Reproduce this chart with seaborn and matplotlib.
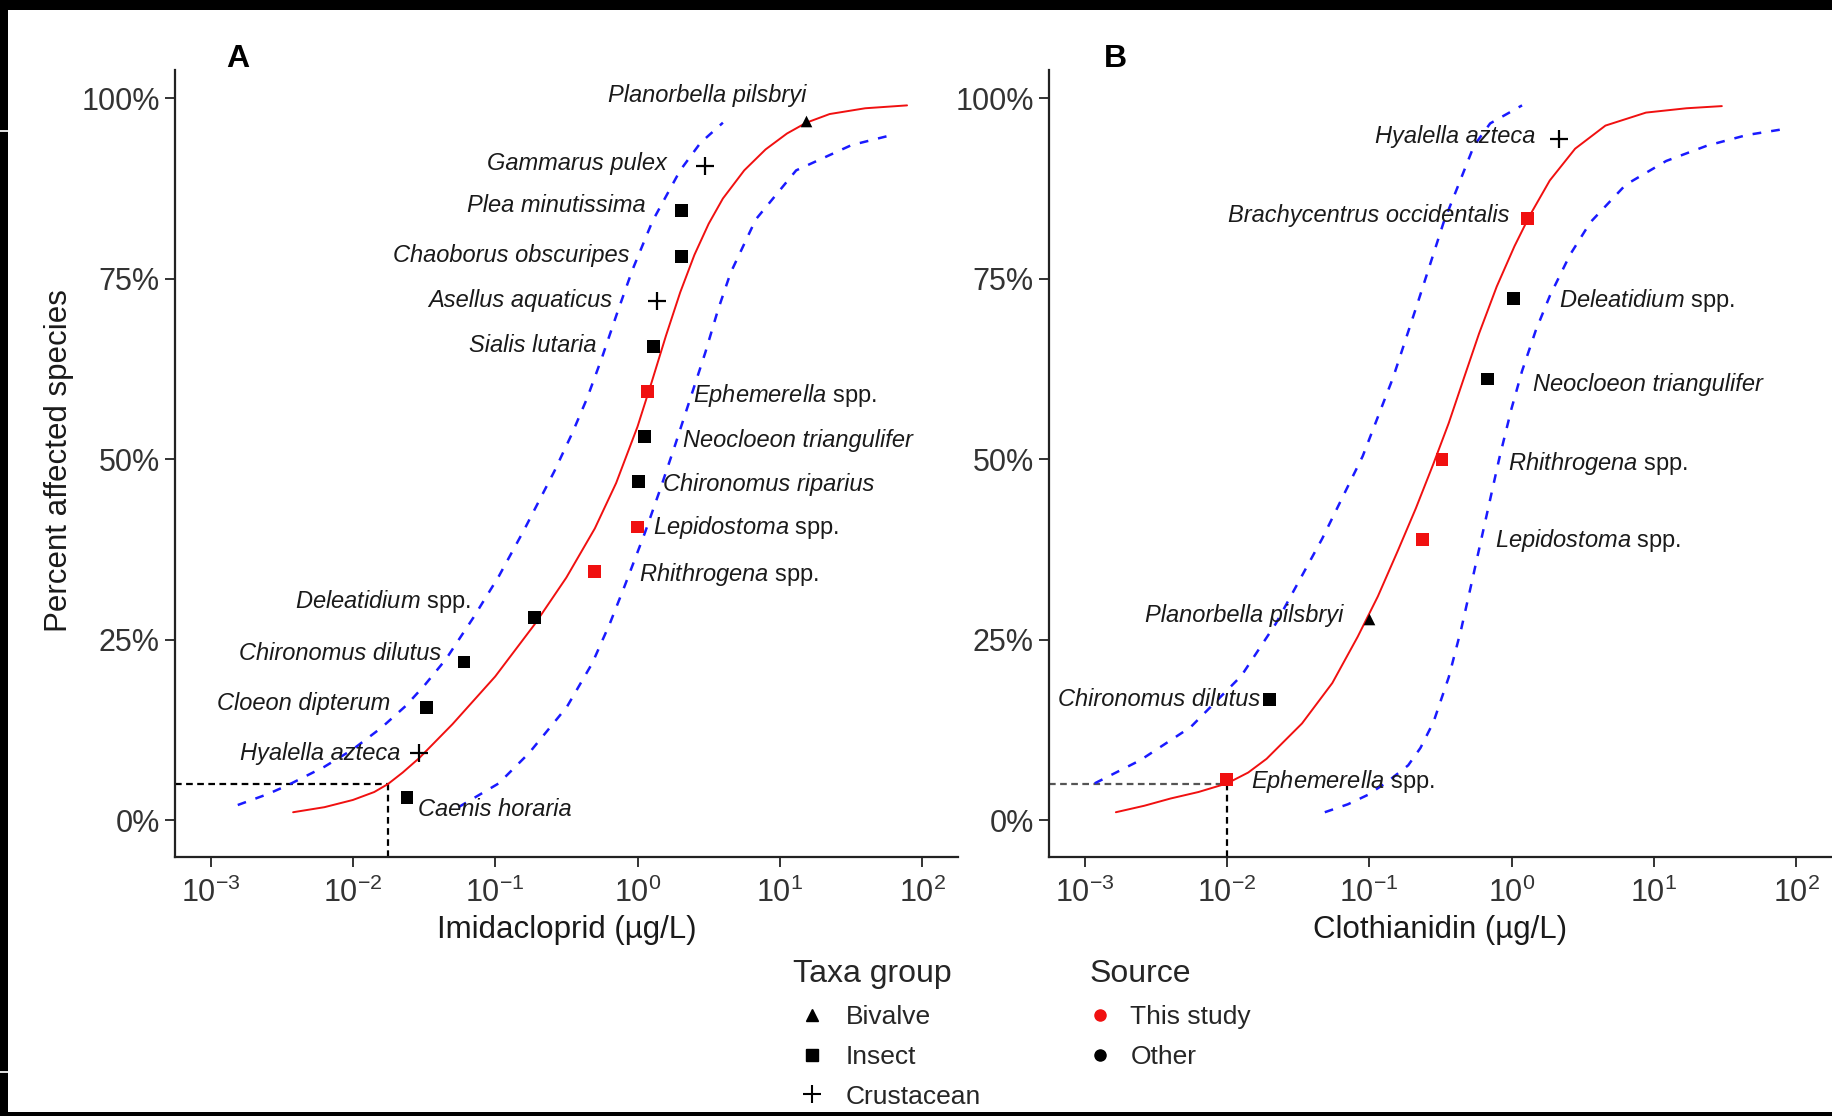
import numpy as np
import pandas as pd
import matplotlib
matplotlib.use("Agg")
import matplotlib.pyplot as plt
import seaborn as sns
from matplotlib.lines import Line2D
from matplotlib.patches import Rectangle
from matplotlib.ticker import FixedLocator, FixedFormatter, NullLocator

# ---------------- data ----------------
# Panel A : Imidacloprid
A_species = ["Caenis horaria", "Hyalella azteca", "Cloeon dipterum", "Chironomus dilutus",
             "Deleatidium spp.", "Rhithrogena spp.", "Lepidostoma spp.", "Chironomus riparius",
             "Neocloeon triangulifer", "Ephemerella spp.", "Sialis lutaria", "Asellus aquaticus",
             "Chaoborus obscuripes", "Plea minutissima", "Gammarus pulex", "Planorbella pilsbryi"]
A_conc = [0.0240, 0.0292, 0.0330, 0.0604, 0.190, 0.499, 1.00, 1.02,
          1.12, 1.18, 1.29, 1.36, 2.03, 2.03, 3.00, 15.3]
A_pct = [3.1, 9.3, 15.6, 21.9, 28.1, 34.4, 40.6, 46.9, 53.1, 59.4, 65.6, 71.9, 78.1, 84.4, 90.6, 96.9]
A_taxa = ["Insect", "Crustacean", "Insect", "Insect", "Insect", "Insect", "Insect", "Insect",
          "Insect", "Insect", "Insect", "Crustacean", "Insect", "Insect", "Crustacean", "Bivalve"]
A_source = ["Other", "Other", "Other", "Other", "Other", "This study", "This study", "Other",
            "Other", "This study", "Other", "Other", "Other", "Other", "Other", "Other"]
A_hc5 = 0.0176

# fitted curve and confidence band (log10 concentration, percent)
A_fit_log = [-2.42, -2.2, -2.0, -1.85, -1.754, -1.65, -1.534, -1.3, -1.0, -0.72, -0.5, -0.3,
             -0.15, 0.0, 0.1, 0.2, 0.3, 0.4, 0.5, 0.6, 0.75, 0.9, 1.05, 1.186, 1.35, 1.6, 1.894]
A_fit_pct = [1.1, 1.8, 2.8, 3.9, 5.0, 6.6, 8.6, 13.3, 19.9, 27.2, 33.6, 40.4,
             46.7, 54.5, 60.7, 67.1, 73.1, 78.3, 82.6, 86.1, 90.0, 92.9, 95.1, 96.6, 97.8, 98.6, 99.0]
A_up_log = [-2.809, -2.6, -2.462, -2.2, -2.001, -1.8, -1.63, -1.5, -1.346, -1.152, -0.974,
            -0.797, -0.585, -0.461, -0.355, -0.249, -0.142, -0.036, 0.106, 0.3, 0.442, 0.6]
A_up_pct = [2.1, 3.6, 4.8, 7.4, 9.8, 12.8, 15.8, 18.6, 22.3, 28.1, 33.8,
            40.2, 48.3, 53.5, 58.4, 64.1, 70.3, 76.2, 83.0, 90.0, 93.8, 96.6]
A_lo_log = [-1.258, -0.975, -0.762, -0.496, -0.319, -0.195, -0.089, 0.052, 0.159, 0.265,
            0.371, 0.477, 0.566, 0.654, 0.831, 1.115, 1.504, 1.788]
A_lo_pct = [1.8, 5.1, 9.3, 15.7, 21.7, 27.2, 32.5, 39.8, 45.8, 52.0,
            58.4, 64.8, 70.7, 75.8, 83.2, 90.0, 93.5, 94.9]

# Panel B : Clothianidin
B_species = ["Ephemerella spp.", "Chironomus dilutus", "Planorbella pilsbryi", "Lepidostoma spp.",
             "Rhithrogena spp.", "Neocloeon triangulifer", "Deleatidium spp.",
             "Brachycentrus occidentalis", "Hyalella azteca"]
B_conc = [0.0100, 0.0200, 0.100, 0.237, 0.325, 0.68, 1.03, 1.29, 2.15]
B_pct = [5.6, 16.7, 27.8, 38.9, 50.0, 61.1, 72.2, 83.3, 94.4]
B_taxa = ["Insect", "Insect", "Bivalve", "Insect", "Insect", "Insect", "Insect", "Insect", "Crustacean"]
B_source = ["This study", "Other", "Other", "This study", "This study", "Other", "Other",
            "This study", "Other"]
B_hc5 = 0.0100

B_fit_log = [-2.78, -2.58, -2.396, -2.2, -1.998, -1.85, -1.721, -1.472, -1.259, -1.081, -0.939,
             -0.797, -0.672, -0.548, -0.441, -0.335, -0.228, -0.104, 0.021, 0.127, 0.269, 0.447,
             0.66, 0.945, 1.229, 1.478]
B_fit_pct = [1.1, 2.0, 3.0, 3.9, 5.1, 6.6, 8.5, 13.4, 19.0, 25.4, 31.0,
             37.4, 43.2, 49.4, 55.0, 61.2, 67.4, 73.9, 79.5, 83.7, 88.6, 93.0,
             96.2, 98.0, 98.6, 98.9]
B_up_log = [-2.929, -2.609, -2.254, -1.898, -1.657, -1.33, -1.046, -0.832, -0.655, -0.477,
            -0.264, -0.15, 0.074]
B_up_pct = [5.1, 8.3, 12.9, 20.0, 27.2, 39.0, 50.4, 61.3, 71.9, 82.8, 93.4, 96.5, 99.0]
B_lo_log = [-1.312, -1.15, -1.01, -0.88, -0.726, -0.64, -0.548, -0.441, -0.353, -0.281, -0.2,
            -0.086, 0.0, 0.074, 0.17, 0.269, 0.411, 0.554, 0.802, 1.087, 1.371, 1.655, 1.94]
B_lo_pct = [1.1, 2.2, 3.5, 5.2, 7.6, 10.0, 13.6, 19.8, 26.5, 32.8, 40.0,
            50.1, 57.0, 62.2, 67.8, 72.6, 78.3, 82.8, 88.0, 91.3, 93.4, 94.9, 95.8]

y_ticks = [0, 25, 50, 75, 100]
y_ticklabels = ["0%", "25%", "50%", "75%", "100%"]
x_ticks = [1e-3, 1e-2, 1e-1, 1e0, 1e1, 1e2]
x_ticklabels = [r"$10^{-3}$", r"$10^{-2}$", r"$10^{-1}$", r"$10^{0}$", r"$10^{1}$", r"$10^{2}$"]

# ---------------- layout (label offsets in pixels) ----------------
A_lab = [("left", 11, -12), ("right", -19, 0), ("right", -36, 4), ("right", -23, 9),
         ("right", -64, 16), ("left", 44, -3), ("left", 15, 0), ("left", 24, -3),
         ("left", 38, -4), ("left", 45, -4), ("right", -57, 1), ("right", -44, 1),
         ("right", -52, 1), ("right", -36, 5), ("right", -39, 3), ("right", 0, 25)]
B_lab = [("left", 24, -2), ("right", -9, 0), ("right", -26, 4), ("left", 72, -1),
         ("left", 66, -4), ("left", 45, -5), ("left", 46, -2), ("right", -18, 3),
         ("right", -23, 2)]

# ---------------- style ----------------
sns.set_theme(style="white")
plt.rcParams["font.family"] = ["Liberation Sans", "DejaVu Sans"]
plt.rcParams["mathtext.fontset"] = "custom"
plt.rcParams["mathtext.rm"] = "Liberation Sans"
plt.rcParams["mathtext.it"] = "Liberation Sans:italic"
plt.rcParams["mathtext.bf"] = "Liberation Sans:bold"

W, H = 1832, 1116
fig = plt.figure(figsize=(W / 100, H / 100), dpi=100)
fig.patch.set_facecolor("white")

ax_w = 782.7 / W
ax_b = 1 - 857 / H
ax_h = 787 / H
axA = fig.add_axes([175 / W, ax_b, ax_w, ax_h])
axB = fig.add_axes([1049 / W, ax_b, ax_w, ax_h])

marker_map = {"Bivalve": "^", "Insect": "s", "Crustacean": "+"}
size_map = {"Bivalve": 70, "Insect": 85, "Crustacean": 170}
pal = {"This study": "#f01010", "Other": "black"}


def fmt_label(name):
    if name.endswith(" spp."):
        return r"$\mathit{" + name[:-5] + r"}$ spp."
    return name


def draw(ax, species, conc, pct, taxa, source, labs, fit_log, fit_pct, up_log, up_pct,
         lo_log, lo_pct, hc5, xlabel, tag, hcolor):
    df = pd.DataFrame({"species": species, "conc": conc, "pct": pct, "taxa": taxa, "source": source})
    fit = pd.DataFrame({"x": np.power(10.0, fit_log), "y": fit_pct})
    up = pd.DataFrame({"x": np.power(10.0, up_log), "y": up_pct})
    lo = pd.DataFrame({"x": np.power(10.0, lo_log), "y": lo_pct})

    ax.set_xscale("log")
    ax.set_xlim(10 ** -3.25, 10 ** 2.25)
    ax.set_ylim(-5.1, 103.9)

    # HC5 guides
    ax.plot([10 ** -3.25, hc5], [5, 5], color=hcolor, lw=1.6, linestyle=(0, (3, 2)), zorder=1)
    ax.plot([hc5, hc5], [-5.1, 5], color="black", lw=1.6, linestyle=(0, (3, 2)), zorder=1)

    for band in (up, lo):
        sns.lineplot(data=band, x="x", y="y", ax=ax, color="#1a1aff", lw=1.8, sort=False,
                     estimator=None, linestyle=(0, (3.5, 4)), zorder=2)
    sns.lineplot(data=fit, x="x", y="y", ax=ax, color="#f01010", lw=1.4, sort=False,
                 estimator=None, zorder=3)

    for t in ["Bivalve", "Insect", "Crustacean"]:
        sub = df[df["taxa"] == t]
        if sub.empty:
            continue
        if t == "Crustacean":
            sns.scatterplot(data=sub, x="conc", y="pct", ax=ax, marker="+", s=size_map[t],
                            color="black", linewidth=1.6, legend=False, zorder=4)
        else:
            sns.scatterplot(data=sub, x="conc", y="pct", hue="source", palette=pal, ax=ax,
                            marker=marker_map[t], s=size_map[t], linewidth=0, legend=False, zorder=4)

    for (name, c, p), (ha, dx, dy) in zip(zip(species, conc, pct), labs):
        lab = fmt_label(name)
        style = "normal" if "$" in lab else "italic"
        ax.annotate(lab, xy=(c, p), xytext=(dx, dy), textcoords="offset pixels",
                    ha=ha, va="center", fontsize=17, fontstyle=style, color="#1a1a1a", zorder=5)

    ax.xaxis.set_major_locator(FixedLocator(x_ticks))
    ax.xaxis.set_major_formatter(FixedFormatter(x_ticklabels))
    ax.xaxis.set_minor_locator(NullLocator())
    ax.set_yticks(y_ticks)
    ax.set_yticklabels(y_ticklabels)
    ax.tick_params(axis="both", which="major", length=7, width=1.4, color="#333333",
                   labelsize=22, labelcolor="#333333", bottom=True, left=True)
    ax.tick_params(axis="x", pad=8)
    ax.tick_params(axis="y", pad=4)
    ax.set_xlabel(xlabel, fontsize=22.5, color="#1a1a1a", labelpad=4)
    ax.set_ylabel("")
    for s in ["top", "right"]:
        ax.spines[s].set_visible(False)
    for s in ["left", "bottom"]:
        ax.spines[s].set_color("#222222")
        ax.spines[s].set_linewidth(1.6)
    ax.grid(False)
    ax.text(0.08, 0.995, tag, transform=ax.transAxes, fontsize=23, fontweight="bold",
            ha="center", va="bottom", color="black")


draw(axA, A_species, A_conc, A_pct, A_taxa, A_source, A_lab, A_fit_log, A_fit_pct,
     A_up_log, A_up_pct, A_lo_log, A_lo_pct, A_hc5, "Imidacloprid (µg/L)", "A", "black")
draw(axB, B_species, B_conc, B_pct, B_taxa, B_source, B_lab, B_fit_log, B_fit_pct,
     B_up_log, B_up_pct, B_lo_log, B_lo_pct, B_hc5, "Clothianidin (µg/L)", "B", "#555555")
axB.texts[-1].set_x(0.085)

fig.text(59 / W, 1 - 461 / H, "Percent affected species", rotation=90, fontsize=22.5,
         ha="center", va="center", color="#1a1a1a")

# ---------------- legends ----------------
taxa_handles = [Line2D([], [], marker="^", ls="", color="black", ms=8),
                Line2D([], [], marker="s", ls="", color="black", ms=9),
                Line2D([], [], marker="+", ls="", color="black", ms=13, mew=1.5)]
leg1 = fig.legend(taxa_handles, ["Bivalve", "Insect", "Crustacean"], title="Taxa group",
                  loc="upper left", bbox_to_anchor=(780 / W, 1 - 946 / H), frameon=False,
                  fontsize=19, title_fontsize=23, alignment="left", borderpad=0,
                  handlelength=1.4, handletextpad=0.59, labelspacing=0.6)
src_handles = [Line2D([], [], marker="o", ls="", color="#f01010", ms=8),
               Line2D([], [], marker="o", ls="", color="black", ms=8)]
leg2 = fig.legend(src_handles, ["This study", "Other"], title="Source",
                  loc="upper left", bbox_to_anchor=(1076 / W, 1 - 946 / H), frameon=False,
                  fontsize=19, title_fontsize=23, alignment="left", borderpad=0,
                  handlelength=0.8, handletextpad=0.76, labelspacing=0.6)

# ---------------- black frame of the scan ----------------
fig.add_artist(Rectangle((0, 1 - 10 / H), 1, 10 / H, transform=fig.transFigure, color="black", lw=0))
fig.add_artist(Rectangle((0, 0), 8 / W, 1, transform=fig.transFigure, color="black", lw=0))
fig.add_artist(Rectangle((0, 0), 1, 4 / H, transform=fig.transFigure, color="black", lw=0))
for yb in [130, 1071]:
    fig.add_artist(Rectangle((0, 1 - (yb + 2) / H), 8 / W, 2 / H, transform=fig.transFigure,
                             color="#dddddd", lw=0))

fig.savefig("out.png", dpi=100, facecolor="white")
